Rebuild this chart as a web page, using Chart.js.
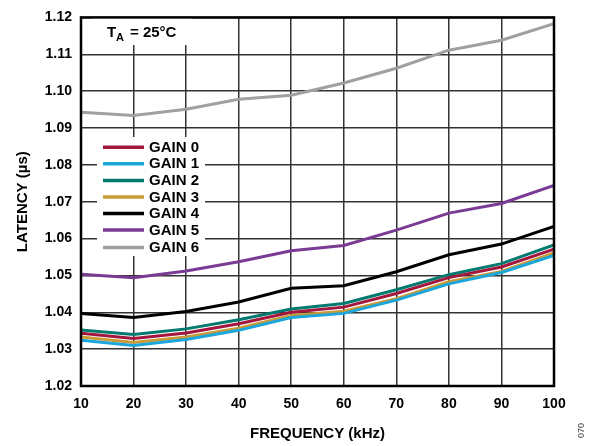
<!DOCTYPE html>
<html>
<head>
<meta charset="utf-8">
<script src="https://cdn.jsdelivr.net/npm/chart.js@4"></script>
<style>
  body { margin: 0; background: #fff; }
  #wrap { width: 591px; height: 446px; position: relative; }
</style>
</head>
<body>
<div id="wrap"><canvas id="myChart"></canvas></div>
<script>
// Frequency points (kHz)
var freqs = [10, 20, 30, 40, 50, 60, 70, 80, 90, 100];

// Latency (us) per gain setting
var gain0 = [1.0343, 1.0329, 1.0344, 1.0369, 1.0400, 1.0414, 1.0451, 1.0494, 1.0523, 1.0571];
var gain1 = [1.0324, 1.0310, 1.0326, 1.0351, 1.0386, 1.0397, 1.0433, 1.0477, 1.0508, 1.0554];
var gain2 = [1.0352, 1.0340, 1.0355, 1.0380, 1.0409, 1.0424, 1.0461, 1.0502, 1.0532, 1.0583];
var gain3 = [1.0333, 1.0318, 1.0333, 1.0357, 1.0391, 1.0403, 1.0437, 1.0483, 1.0511, 1.0561];
var gain4 = [1.0397, 1.0386, 1.0402, 1.0428, 1.0465, 1.0472, 1.0510, 1.0556, 1.0585, 1.0633];
var gain5 = [1.0503, 1.0494, 1.0512, 1.0537, 1.0567, 1.0581, 1.0623, 1.0669, 1.0695, 1.0744];
var gain6 = [1.0943, 1.0934, 1.0951, 1.0978, 1.0989, 1.1022, 1.1062, 1.1111, 1.1138, 1.1183];

var seriesNames = ['GAIN 0', 'GAIN 1', 'GAIN 2', 'GAIN 3', 'GAIN 4', 'GAIN 5', 'GAIN 6'];
var seriesData = [gain0, gain1, gain2, gain3, gain4, gain5, gain6];
var seriesColors = ['#a3173f', '#1ba6dc', '#007a6e', '#c99a36', '#000000', '#7a3b94', '#a0a0a0'];

var FONT = '"Liberation Sans", Arial, sans-serif';

// draw order: keep the blue and red lines above the gold one
var drawOrder = [2, 0, 3, 1, 4, 5, 6];

var datasets = seriesData.map(function (vals, i) {
    return {
        label: seriesNames[i],
        data: vals.map(function (v, j) { return { x: freqs[j], y: v }; }),
        borderColor: seriesColors[i],
        backgroundColor: seriesColors[i],
        borderWidth: 3,
        pointRadius: 0,
        tension: 0,
        fill: false,
        order: drawOrder[i]
    };
});

// white boxes, legend, TA note, frame
var overlay = {
    id: 'overlay',
    beforeDatasetsDraw: function (chart) {
        var ctx = chart.ctx;
        ctx.save();
        ctx.fillStyle = '#fff';
        ctx.fillRect(92, 14, 100, 31);
        ctx.fillRect(97, 137, 108, 119);
        ctx.restore();
    },
    afterDatasetsDraw: function (chart) {
        var ctx = chart.ctx;
        var a = chart.chartArea;
        ctx.save();
        ctx.strokeStyle = '#000';
        ctx.lineWidth = 2.5;
        ctx.strokeRect(a.left, a.top, a.right - a.left, a.bottom - a.top);

        // legend
        ctx.font = 'bold 15px ' + FONT;
        ctx.textBaseline = 'middle';
        ctx.fillStyle = '#000';
        for (var i = 0; i < seriesNames.length; i++) {
            var y = 147.3 + i * 16.55 + (i === 6 ? 0.8 : 0);
            ctx.strokeStyle = seriesColors[i];
            ctx.lineWidth = 3.5;
            ctx.beginPath();
            ctx.moveTo(103, y);
            ctx.lineTo(144, y);
            ctx.stroke();
            ctx.fillText(seriesNames[i], 149, y + 0.5);
        }

        // T_A = 25°C
        ctx.textBaseline = 'alphabetic';
        ctx.font = 'bold 15px ' + FONT;
        ctx.fillText('T', 107, 36.5);
        ctx.font = 'bold 11px ' + FONT;
        ctx.fillText('A', 116, 40.5);
        ctx.font = 'bold 15px ' + FONT;
        ctx.fillText('= 25°C', 130, 36.5);

        // figure number
        ctx.translate(582, 438);
        ctx.rotate(-Math.PI / 2);
        ctx.font = '9px ' + FONT;
        ctx.fillStyle = '#444';
        ctx.textBaseline = 'middle';
        ctx.fillText('070', 0, 0);
        ctx.restore();
    }
};

var ctx = document.getElementById('myChart').getContext('2d');
var myChart = new Chart(ctx, {
    type: 'line',
    data: { datasets: datasets },
    options: {
        responsive: true,
        maintainAspectRatio: false,
        animation: false,
        layout: { padding: { top: 9, right: 37, left: 0, bottom: 0 } },
        plugins: {
            legend: { display: false },
            tooltip: { enabled: false }
        },
        scales: {
            x: {
                type: 'linear',
                min: 10,
                max: 100,
                grid: { color: '#333', lineWidth: 1.5, drawTicks: false },
                border: { display: false },
                ticks: {
                    stepSize: 10,
                    padding: 10,
                    color: '#000',
                    font: { family: FONT, size: 14, weight: 'bold' }
                },
                title: {
                    display: true,
                    text: 'FREQUENCY (kHz)',
                    color: '#000',
                    font: { family: FONT, size: 15, weight: 'bold' },
                    padding: { top: 7, bottom: 3 }
                },
                afterFit: function (scale) { scale.height = 60; }
            },
            y: {
                min: 1.02,
                max: 1.12,
                grid: { color: '#333', lineWidth: 1.5, drawTicks: false },
                border: { display: false },
                ticks: {
                    stepSize: 0.01,
                    padding: 9,
                    color: '#000',
                    font: { family: FONT, size: 14, weight: 'bold' },
                    callback: function (v) { return v.toFixed(2); }
                },
                title: {
                    display: true,
                    text: 'LATENCY (µs)',
                    color: '#000',
                    font: { family: FONT, size: 15, weight: 'bold' },
                    padding: { top: 14, bottom: 0 }
                },
                afterFit: function (scale) { scale.width = 81; }
            }
        }
    },
    plugins: [overlay]
});
</script>
</body>
</html>
